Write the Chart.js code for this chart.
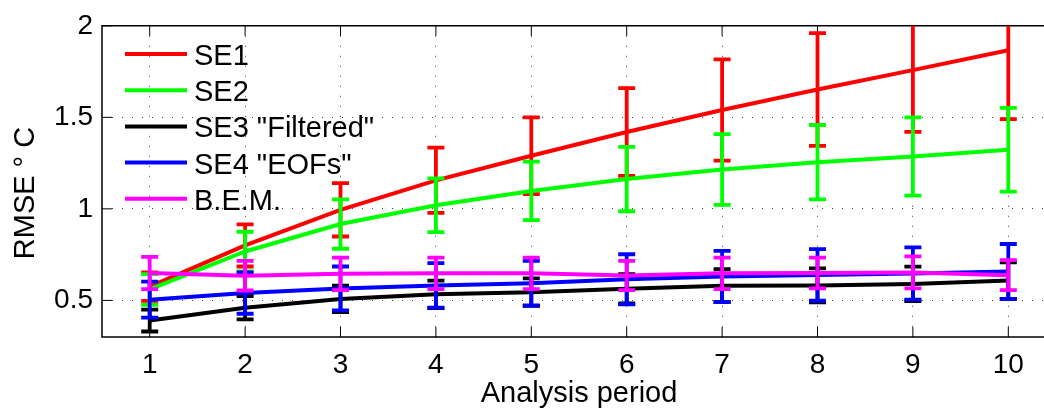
<!DOCTYPE html>
<html>
<head>
<meta charset="utf-8">
<script src="https://cdn.jsdelivr.net/npm/chart.js@4.4.1/dist/chart.umd.min.js"></script>
<style>
  html, body { margin: 0; padding: 0; background: #fff; overflow: hidden; }
  #wrap { width: 1060px; height: 409px; }
</style>
</head>
<body>
<div id="wrap"><canvas id="chart"></canvas></div>
<script>
const periods = [1, 2, 3, 4, 5, 6, 7, 8, 9, 10];
const xTicks  = [1, 2, 3, 4, 5, 6, 7, 8, 9, 10];
const yTicks  = [0.5, 1, 1.5, 2];

const seriesLabels = ['SE1', 'SE2', 'SE3 "Filtered"', 'SE4 "EOFs"', 'B.E.M.'];
const seriesColors = ['#ff0000', '#00ff00', '#000000', '#0000ff', '#ff00ff'];

const se1Mean = [0.575, 0.80, 0.995, 1.156, 1.29, 1.42, 1.54, 1.652, 1.758, 1.866];
const se1Err  = [0.078, 0.115, 0.146, 0.178, 0.21, 0.24, 0.277, 0.308, 0.338, 0.376];
const se2Mean = [0.56, 0.767, 0.917, 1.02, 1.098, 1.163, 1.215, 1.255, 1.286, 1.323];
const se2Err  = [0.084, 0.108, 0.135, 0.147, 0.16, 0.176, 0.193, 0.203, 0.214, 0.229];
const se3Mean = [0.39, 0.46, 0.508, 0.533, 0.545, 0.563, 0.58, 0.582, 0.59, 0.608];
const se3Err  = [0.06, 0.064, 0.072, 0.075, 0.075, 0.08, 0.09, 0.093, 0.094, 0.1];
const se4Mean = [0.504, 0.54, 0.565, 0.582, 0.594, 0.615, 0.63, 0.639, 0.647, 0.658];
const se4Err  = [0.098, 0.113, 0.12, 0.122, 0.122, 0.137, 0.14, 0.141, 0.143, 0.15];
const bemMean = [0.65, 0.635, 0.645, 0.648, 0.648, 0.636, 0.648, 0.65, 0.653, 0.638];
const bemErr  = [0.088, 0.081, 0.089, 0.086, 0.086, 0.08, 0.086, 0.084, 0.087, 0.082];

const means = [se1Mean, se2Mean, se3Mean, se4Mean, bemMean];
const errs  = [se1Err, se2Err, se3Err, se4Err, bemErr];

const FONT = '"Liberation Sans", Arial, Helvetica, sans-serif';

// error bars, drawn right after each dataset's line
const errorBars = {
  id: 'errorBars',
  afterDatasetDraw(chart, args) {
    const ds = chart.data.datasets[args.index];
    const { ctx, chartArea: a, scales: { x, y } } = chart;
    ctx.save();
    ctx.beginPath(); ctx.rect(a.left, a.top, a.right - a.left, a.bottom - a.top); ctx.clip();
    ctx.strokeStyle = ds.borderColor; ctx.lineWidth = 3.8; ctx.lineCap = 'butt';
    ds.data.forEach((p, i) => {
      const px = x.getPixelForValue(p.x);
      const top = y.getPixelForValue(p.y + ds.errors[i]);
      const bot = y.getPixelForValue(p.y - ds.errors[i]);
      ctx.beginPath();
      ctx.moveTo(px, top); ctx.lineTo(px, bot);
      ctx.moveTo(px - 8.5, top); ctx.lineTo(px + 8.5, top);
      ctx.moveTo(px - 8.5, bot); ctx.lineTo(px + 8.5, bot);
      ctx.stroke();
    });
    ctx.restore();
  }
};

// axes frame, inward tick marks, axis titles and the legend
const frame = {
  id: 'frame',
  beforeDatasetsDraw(chart) {
    const { ctx, chartArea: a, scales: { x, y } } = chart;
    ctx.save();
    ctx.strokeStyle = '#000'; ctx.lineWidth = 1.5;
    ctx.beginPath();
    ctx.moveTo(a.right + 2, a.top); ctx.lineTo(a.left, a.top); ctx.lineTo(a.left, a.bottom); ctx.lineTo(a.right + 2, a.bottom);
    ctx.stroke();
    ctx.lineWidth = 1;
    ctx.beginPath();
    xTicks.forEach(v => {
      const px = x.getPixelForValue(v);
      ctx.moveTo(px, a.bottom); ctx.lineTo(px, a.bottom - 10);
      ctx.moveTo(px, a.top); ctx.lineTo(px, a.top + 10);
    });
    yTicks.forEach(v => {
      const py = y.getPixelForValue(v);
      ctx.moveTo(a.left, py); ctx.lineTo(a.left + 10, py);
    });
    ctx.stroke();
    ctx.restore();
  },
  afterDraw(chart) {
    const { ctx } = chart;
    ctx.save();
    ctx.fillStyle = '#000';
    ctx.font = '29px ' + FONT;
    ctx.textAlign = 'center'; ctx.textBaseline = 'alphabetic';
    ctx.fillText('Analysis period', 579, 402);
    ctx.translate(34, 193); ctx.rotate(-Math.PI / 2);
    ctx.fillText('RMSE \u00b0 C', 0, 0);
    ctx.restore();

    ctx.save();
    ctx.font = '29px ' + FONT;
    ctx.textAlign = 'left'; ctx.textBaseline = 'alphabetic';
    seriesLabels.forEach((lab, i) => {
      const ly = 54 + i * 36.2;
      ctx.strokeStyle = seriesColors[i]; ctx.lineWidth = 4;
      ctx.beginPath(); ctx.moveTo(125, ly); ctx.lineTo(187, ly); ctx.stroke();
      ctx.fillStyle = '#000';
      ctx.fillText(lab, 194, ly + 11);
    });
    ctx.restore();
  }
};

const datasets = seriesLabels.map((lab, i) => ({
  label: lab,
  data: periods.map((p, j) => ({ x: p, y: means[i][j] })),
  errors: errs[i],
  borderColor: seriesColors[i],
  backgroundColor: seriesColors[i],
  borderWidth: 4,
  pointRadius: 0,
  tension: 0,
  order: seriesLabels.length - i
}));

new Chart(document.getElementById('chart'), {
  type: 'line',
  data: { datasets },
  plugins: [errorBars, frame],
  options: {
    responsive: true,
    maintainAspectRatio: false,
    animation: false,
    layout: { padding: { top: 23, right: 4, left: 0, bottom: 0 } },
    plugins: { legend: { display: false }, tooltip: { enabled: false } },
    scales: {
      x: {
        type: 'linear', min: 0.5, max: 10.5,
        afterBuildTicks: s => { s.ticks = xTicks.map(v => ({ value: v })); },
        afterFit: s => { s.height = 72; },
        ticks: { font: { family: FONT, size: 28 }, color: '#000', padding: 11, maxRotation: 0, callback: v => String(v) },
        grid: { color: '#444', lineWidth: 1, drawTicks: false },
        border: { display: false, dash: [1, 9] }
      },
      y: {
        type: 'linear', min: 0.3, max: 2,
        afterBuildTicks: s => { s.ticks = yTicks.map(v => ({ value: v })); },
        afterFit: s => { s.width = 102; },
        ticks: { font: { family: FONT, size: 28 }, color: '#000', padding: 9, callback: v => String(v) },
        grid: { color: '#444', lineWidth: 1, drawTicks: false },
        border: { display: false, dash: [1, 9] }
      }
    }
  }
});
</script>
</body>
</html>
